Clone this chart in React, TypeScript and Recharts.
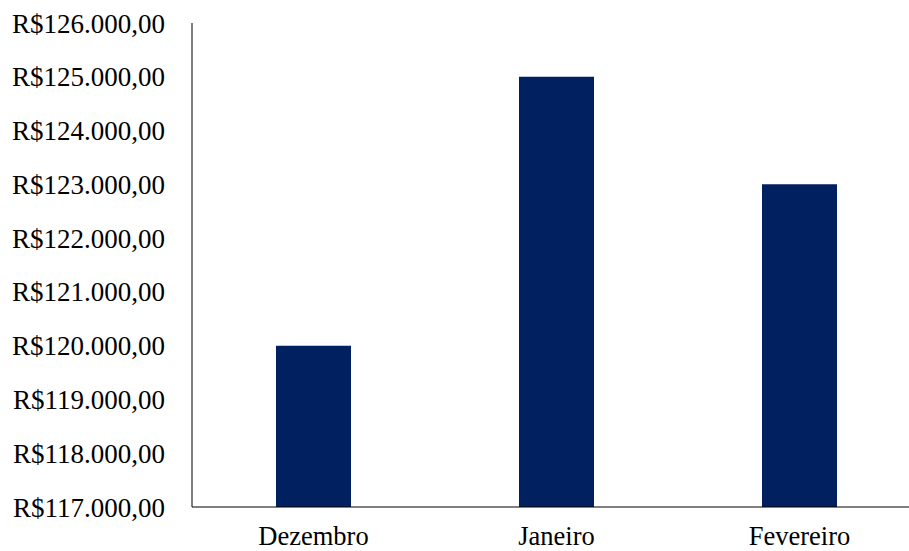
import { Bar, BarChart, XAxis, YAxis } from "recharts";

const MONTHS = ["Dezembro", "Janeiro", "Fevereiro"];
const REVENUE = [120000, 125000, 123000];
const Y_TICKS = [117000, 118000, 119000, 120000, 121000, 122000, 123000, 124000, 125000, 126000];

const rows = MONTHS.map((month, i) => ({ month, value: REVENUE[i] }));

// pt-BR currency without relying on Intl locale data
const brl = (n: number) => {
  const [int, dec] = n.toFixed(2).split(".");
  return "R$" + int.replace(/\B(?=(\d{3})+(?!\d))/g, ".") + "," + dec;
};

const SERIF = "Liberation Serif, Times New Roman, serif";

export default function App() {
  return (
    <div style={{ position: "absolute", left: 0, top: 0, background: "#fff", fontFamily: SERIF }}>
      <BarChart
        width={930}
        height={551}
        data={rows}
        margin={{ top: 23, right: 9, left: 0, bottom: 0 }}
        style={{ fontFamily: SERIF }}
      >
        <XAxis
          dataKey="month"
          height={44}
          tickLine={false}
          tickMargin={13}
          axisLine={{ stroke: "#000" }}
          tick={{ fontFamily: SERIF, fontSize: 26.5, fill: "#000" }}
        />
        <YAxis
          width={192}
          domain={[117000, 126000]}
          ticks={Y_TICKS}
          tickFormatter={brl}
          tickLine={false}
          tickMargin={21}
          axisLine={{ stroke: "#000" }}
          tick={{ fontFamily: SERIF, fontSize: 27, fill: "#000" }}
          allowDataOverflow
        />
        <Bar dataKey="value" fill="#002060" barSize={75} isAnimationActive={false} />
      </BarChart>
    </div>
  );
}
